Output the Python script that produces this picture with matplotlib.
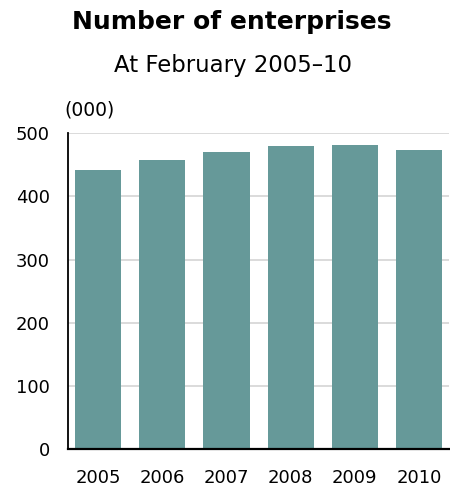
import matplotlib.pyplot as plt

# data (thousands of enterprises, at February)
years = ['2005', '2006', '2007', '2008', '2009', '2010']
enterprises = [441, 457, 470, 479, 482, 473]
yticks = [0, 100, 200, 300, 400, 500]

bar_color = '#669999'
plt.rcParams['font.family'] = 'DejaVu Sans'

fig = plt.figure(figsize=(4.5, 4.86), dpi=100)
ax = fig.add_axes([0.151, 0.076, 0.847, 0.650])

x = range(len(years))
ax.bar(x, enterprises, width=0.72, color=bar_color, zorder=2)

ax.set_xlim(-0.47, 5.47)
ax.set_ylim(0, 500)
ax.set_yticks(yticks)
ax.set_xticks(list(x))
ax.set_xticklabels(years)
ax.yaxis.grid(True, color='#d4d4d4', linewidth=1.2, zorder=0)
ax.set_axisbelow(True)

for side in ['top', 'right']:
    ax.spines[side].set_visible(False)
ax.spines['left'].set_linewidth(1.3)
ax.spines['bottom'].set_linewidth(1.6)
ax.tick_params(axis='both', length=0, labelsize=13, colors='black')
ax.tick_params(axis='y', pad=13)
ax.tick_params(axis='x', pad=14)

fig.text(0.515, 0.955, 'Number of enterprises', ha='center', va='center',
         fontsize=18, fontweight='bold')
fig.text(0.517, 0.866, 'At February 2005\u201310', ha='center', va='center',
         fontsize=16.4)
fig.text(0.143, 0.774, '(000)', ha='left', va='center', fontsize=13.5)

fig.savefig('out.png', dpi=100)
